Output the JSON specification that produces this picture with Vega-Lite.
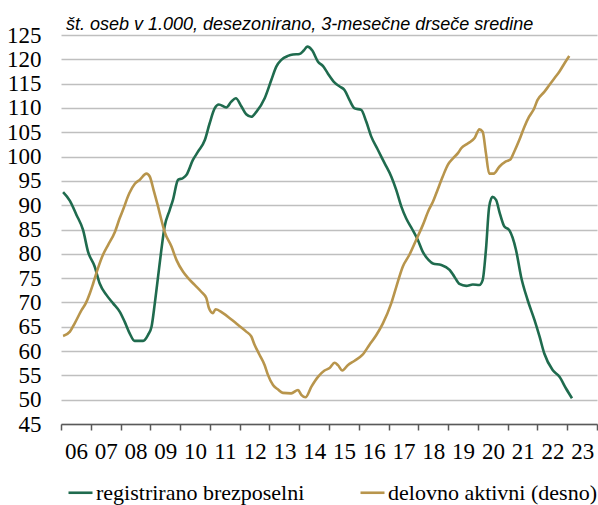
{
  "$schema": "https://vega.github.io/schema/vega-lite/v6.json",
  "width": 536,
  "height": 389,
  "autosize": {"type": "none"},
  "padding": {"left": 61, "top": 35, "right": 1, "bottom": 81},
  "background": "white",
  "title": {
    "text": "št. oseb v 1.000, desezonirano, 3-mesečne drseče sredine",
    "anchor": "start",
    "frame": "group",
    "dx": 5,
    "dy": 15,
    "offset": 5,
    "font": "Liberation Sans",
    "fontStyle": "italic",
    "fontWeight": "normal",
    "fontSize": 18,
    "color": "#000000"
  },
  "config": {
    "view": {"stroke": null},
    "axis": {"labelFont": "Liberation Sans Narrow", "labelFontSize": 23, "labelColor": "#000000"},
    "legend": {"labelFont": "Liberation Sans Narrow", "labelFontSize": 22, "labelColor": "#000000"}
  },
  "data": {
    "values": [
      {"date": 2006.07, "series": "registrirano brezposelni", "value": 92.7},
      {"date": 2006.30, "series": "registrirano brezposelni", "value": 90.9},
      {"date": 2006.52, "series": "registrirano brezposelni", "value": 88.0},
      {"date": 2006.74, "series": "registrirano brezposelni", "value": 84.9},
      {"date": 2006.91, "series": "registrirano brezposelni", "value": 80.4},
      {"date": 2007.13, "series": "registrirano brezposelni", "value": 77.4},
      {"date": 2007.30, "series": "registrirano brezposelni", "value": 73.9},
      {"date": 2007.53, "series": "registrirano brezposelni", "value": 71.5},
      {"date": 2007.75, "series": "registrirano brezposelni", "value": 69.8},
      {"date": 2007.97, "series": "registrirano brezposelni", "value": 68.1},
      {"date": 2008.14, "series": "registrirano brezposelni", "value": 66.0},
      {"date": 2008.31, "series": "registrirano brezposelni", "value": 63.6},
      {"date": 2008.47, "series": "registrirano brezposelni", "value": 62.1},
      {"date": 2008.76, "series": "registrirano brezposelni", "value": 62.1},
      {"date": 2008.92, "series": "registrirano brezposelni", "value": 63.3},
      {"date": 2009.04, "series": "registrirano brezposelni", "value": 65.0},
      {"date": 2009.15, "series": "registrirano brezposelni", "value": 69.8},
      {"date": 2009.26, "series": "registrirano brezposelni", "value": 75.3},
      {"date": 2009.37, "series": "registrirano brezposelni", "value": 80.8},
      {"date": 2009.48, "series": "registrirano brezposelni", "value": 85.6},
      {"date": 2009.65, "series": "registrirano brezposelni", "value": 89.0},
      {"date": 2009.76, "series": "registrirano brezposelni", "value": 91.1},
      {"date": 2009.93, "series": "registrirano brezposelni", "value": 95.2},
      {"date": 2010.10, "series": "registrirano brezposelni", "value": 95.6},
      {"date": 2010.21, "series": "registrirano brezposelni", "value": 96.2},
      {"date": 2010.43, "series": "registrirano brezposelni", "value": 99.3},
      {"date": 2010.60, "series": "registrirano brezposelni", "value": 101.0},
      {"date": 2010.83, "series": "registrirano brezposelni", "value": 103.4},
      {"date": 2010.99, "series": "registrirano brezposelni", "value": 106.8},
      {"date": 2011.16, "series": "registrirano brezposelni", "value": 109.9},
      {"date": 2011.30, "series": "registrirano brezposelni", "value": 110.7},
      {"date": 2011.55, "series": "registrirano brezposelni", "value": 110.1},
      {"date": 2011.72, "series": "registrirano brezposelni", "value": 111.3},
      {"date": 2011.87, "series": "registrirano brezposelni", "value": 112.0},
      {"date": 2012.06, "series": "registrirano brezposelni", "value": 110.3},
      {"date": 2012.22, "series": "registrirano brezposelni", "value": 108.7},
      {"date": 2012.39, "series": "registrirano brezposelni", "value": 108.2},
      {"date": 2012.56, "series": "registrirano brezposelni", "value": 109.2},
      {"date": 2012.84, "series": "registrirano brezposelni", "value": 112.0},
      {"date": 2013.06, "series": "registrirano brezposelni", "value": 115.7},
      {"date": 2013.23, "series": "registrirano brezposelni", "value": 118.5},
      {"date": 2013.40, "series": "registrirano brezposelni", "value": 119.9},
      {"date": 2013.62, "series": "registrirano brezposelni", "value": 120.7},
      {"date": 2013.79, "series": "registrirano brezposelni", "value": 121.0},
      {"date": 2014.01, "series": "registrirano brezposelni", "value": 121.1},
      {"date": 2014.15, "series": "registrirano brezposelni", "value": 121.8},
      {"date": 2014.27, "series": "registrirano brezposelni", "value": 122.6},
      {"date": 2014.44, "series": "registrirano brezposelni", "value": 121.8},
      {"date": 2014.63, "series": "registrirano brezposelni", "value": 119.5},
      {"date": 2014.80, "series": "registrirano brezposelni", "value": 118.6},
      {"date": 2014.96, "series": "registrirano brezposelni", "value": 117.1},
      {"date": 2015.19, "series": "registrirano brezposelni", "value": 115.2},
      {"date": 2015.36, "series": "registrirano brezposelni", "value": 114.4},
      {"date": 2015.52, "series": "registrirano brezposelni", "value": 113.7},
      {"date": 2015.69, "series": "registrirano brezposelni", "value": 111.6},
      {"date": 2015.86, "series": "registrirano brezposelni", "value": 109.9},
      {"date": 2016.08, "series": "registrirano brezposelni", "value": 109.6},
      {"date": 2016.25, "series": "registrirano brezposelni", "value": 107.2},
      {"date": 2016.42, "series": "registrirano brezposelni", "value": 104.1},
      {"date": 2016.64, "series": "registrirano brezposelni", "value": 101.4},
      {"date": 2016.87, "series": "registrirano brezposelni", "value": 98.6},
      {"date": 2017.09, "series": "registrirano brezposelni", "value": 95.9},
      {"date": 2017.26, "series": "registrirano brezposelni", "value": 93.1},
      {"date": 2017.43, "series": "registrirano brezposelni", "value": 89.7},
      {"date": 2017.59, "series": "registrirano brezposelni", "value": 87.3},
      {"date": 2017.80, "series": "registrirano brezposelni", "value": 85.0},
      {"date": 2017.98, "series": "registrirano brezposelni", "value": 82.9},
      {"date": 2018.15, "series": "registrirano brezposelni", "value": 80.4},
      {"date": 2018.35, "series": "registrirano brezposelni", "value": 78.7},
      {"date": 2018.49, "series": "registrirano brezposelni", "value": 78.0},
      {"date": 2018.77, "series": "registrirano brezposelni", "value": 77.7},
      {"date": 2019.05, "series": "registrirano brezposelni", "value": 76.7},
      {"date": 2019.21, "series": "registrirano brezposelni", "value": 75.3},
      {"date": 2019.38, "series": "registrirano brezposelni", "value": 73.8},
      {"date": 2019.61, "series": "registrirano brezposelni", "value": 73.4},
      {"date": 2019.83, "series": "registrirano brezposelni", "value": 73.7},
      {"date": 2020.05, "series": "registrirano brezposelni", "value": 73.6},
      {"date": 2020.16, "series": "registrirano brezposelni", "value": 74.6},
      {"date": 2020.27, "series": "registrirano brezposelni", "value": 80.8},
      {"date": 2020.38, "series": "registrirano brezposelni", "value": 89.7},
      {"date": 2020.49, "series": "registrirano brezposelni", "value": 91.7},
      {"date": 2020.61, "series": "registrirano brezposelni", "value": 91.1},
      {"date": 2020.72, "series": "registrirano brezposelni", "value": 88.7},
      {"date": 2020.89, "series": "registrirano brezposelni", "value": 85.6},
      {"date": 2021.05, "series": "registrirano brezposelni", "value": 84.9},
      {"date": 2021.28, "series": "registrirano brezposelni", "value": 80.8},
      {"date": 2021.45, "series": "registrirano brezposelni", "value": 75.3},
      {"date": 2021.67, "series": "registrirano brezposelni", "value": 70.5},
      {"date": 2021.90, "series": "registrirano brezposelni", "value": 66.4},
      {"date": 2022.07, "series": "registrirano brezposelni", "value": 63.0},
      {"date": 2022.23, "series": "registrirano brezposelni", "value": 59.5},
      {"date": 2022.51, "series": "registrirano brezposelni", "value": 56.1},
      {"date": 2022.74, "series": "registrirano brezposelni", "value": 54.7},
      {"date": 2022.96, "series": "registrirano brezposelni", "value": 52.3},
      {"date": 2023.16, "series": "registrirano brezposelni", "value": 50.3},
      {"date": 2006.07, "series": "delovno aktivni (desno)", "value": 63.1},
      {"date": 2006.30, "series": "delovno aktivni (desno)", "value": 64.0},
      {"date": 2006.46, "series": "delovno aktivni (desno)", "value": 65.7},
      {"date": 2006.69, "series": "delovno aktivni (desno)", "value": 68.4},
      {"date": 2006.83, "series": "delovno aktivni (desno)", "value": 69.8},
      {"date": 2006.97, "series": "delovno aktivni (desno)", "value": 71.9},
      {"date": 2007.08, "series": "delovno aktivni (desno)", "value": 73.9},
      {"date": 2007.24, "series": "delovno aktivni (desno)", "value": 77.0},
      {"date": 2007.41, "series": "delovno aktivni (desno)", "value": 79.8},
      {"date": 2007.58, "series": "delovno aktivni (desno)", "value": 81.8},
      {"date": 2007.81, "series": "delovno aktivni (desno)", "value": 84.5},
      {"date": 2007.97, "series": "delovno aktivni (desno)", "value": 87.3},
      {"date": 2008.08, "series": "delovno aktivni (desno)", "value": 89.0},
      {"date": 2008.29, "series": "delovno aktivni (desno)", "value": 92.4},
      {"date": 2008.48, "series": "delovno aktivni (desno)", "value": 94.4},
      {"date": 2008.64, "series": "delovno aktivni (desno)", "value": 95.2},
      {"date": 2008.87, "series": "delovno aktivni (desno)", "value": 96.5},
      {"date": 2008.98, "series": "delovno aktivni (desno)", "value": 95.9},
      {"date": 2009.11, "series": "delovno aktivni (desno)", "value": 93.1},
      {"date": 2009.26, "series": "delovno aktivni (desno)", "value": 89.7},
      {"date": 2009.37, "series": "delovno aktivni (desno)", "value": 87.0},
      {"date": 2009.48, "series": "delovno aktivni (desno)", "value": 84.5},
      {"date": 2009.71, "series": "delovno aktivni (desno)", "value": 81.5},
      {"date": 2009.88, "series": "delovno aktivni (desno)", "value": 78.7},
      {"date": 2010.10, "series": "delovno aktivni (desno)", "value": 76.3},
      {"date": 2010.27, "series": "delovno aktivni (desno)", "value": 75.0},
      {"date": 2010.49, "series": "delovno aktivni (desno)", "value": 73.6},
      {"date": 2010.71, "series": "delovno aktivni (desno)", "value": 72.2},
      {"date": 2010.88, "series": "delovno aktivni (desno)", "value": 70.9},
      {"date": 2010.97, "series": "delovno aktivni (desno)", "value": 68.8},
      {"date": 2011.10, "series": "delovno aktivni (desno)", "value": 67.8},
      {"date": 2011.19, "series": "delovno aktivni (desno)", "value": 68.6},
      {"date": 2011.44, "series": "delovno aktivni (desno)", "value": 67.8},
      {"date": 2011.70, "series": "delovno aktivni (desno)", "value": 66.6},
      {"date": 2011.94, "series": "delovno aktivni (desno)", "value": 65.4},
      {"date": 2012.22, "series": "delovno aktivni (desno)", "value": 64.0},
      {"date": 2012.39, "series": "delovno aktivni (desno)", "value": 63.0},
      {"date": 2012.50, "series": "delovno aktivni (desno)", "value": 61.3},
      {"date": 2012.67, "series": "delovno aktivni (desno)", "value": 59.2},
      {"date": 2012.84, "series": "delovno aktivni (desno)", "value": 57.1},
      {"date": 2012.95, "series": "delovno aktivni (desno)", "value": 55.1},
      {"date": 2013.12, "series": "delovno aktivni (desno)", "value": 53.0},
      {"date": 2013.29, "series": "delovno aktivni (desno)", "value": 52.1},
      {"date": 2013.45, "series": "delovno aktivni (desno)", "value": 51.4},
      {"date": 2013.73, "series": "delovno aktivni (desno)", "value": 51.3},
      {"date": 2013.96, "series": "delovno aktivni (desno)", "value": 52.0},
      {"date": 2014.07, "series": "delovno aktivni (desno)", "value": 51.0},
      {"date": 2014.21, "series": "delovno aktivni (desno)", "value": 50.5},
      {"date": 2014.41, "series": "delovno aktivni (desno)", "value": 52.7},
      {"date": 2014.63, "series": "delovno aktivni (desno)", "value": 54.7},
      {"date": 2014.85, "series": "delovno aktivni (desno)", "value": 56.0},
      {"date": 2015.02, "series": "delovno aktivni (desno)", "value": 56.5},
      {"date": 2015.19, "series": "delovno aktivni (desno)", "value": 57.6},
      {"date": 2015.30, "series": "delovno aktivni (desno)", "value": 57.1},
      {"date": 2015.45, "series": "delovno aktivni (desno)", "value": 56.0},
      {"date": 2015.63, "series": "delovno aktivni (desno)", "value": 57.1},
      {"date": 2015.86, "series": "delovno aktivni (desno)", "value": 58.0},
      {"date": 2016.12, "series": "delovno aktivni (desno)", "value": 59.2},
      {"date": 2016.36, "series": "delovno aktivni (desno)", "value": 61.3},
      {"date": 2016.59, "series": "delovno aktivni (desno)", "value": 63.3},
      {"date": 2016.81, "series": "delovno aktivni (desno)", "value": 65.7},
      {"date": 2017.09, "series": "delovno aktivni (desno)", "value": 69.8},
      {"date": 2017.26, "series": "delovno aktivni (desno)", "value": 73.2},
      {"date": 2017.48, "series": "delovno aktivni (desno)", "value": 77.4},
      {"date": 2017.70, "series": "delovno aktivni (desno)", "value": 79.8},
      {"date": 2017.93, "series": "delovno aktivni (desno)", "value": 82.9},
      {"date": 2018.15, "series": "delovno aktivni (desno)", "value": 85.9},
      {"date": 2018.35, "series": "delovno aktivni (desno)", "value": 89.0},
      {"date": 2018.49, "series": "delovno aktivni (desno)", "value": 90.7},
      {"date": 2018.60, "series": "delovno aktivni (desno)", "value": 92.4},
      {"date": 2018.82, "series": "delovno aktivni (desno)", "value": 95.9},
      {"date": 2018.99, "series": "delovno aktivni (desno)", "value": 98.3},
      {"date": 2019.16, "series": "delovno aktivni (desno)", "value": 99.6},
      {"date": 2019.33, "series": "delovno aktivni (desno)", "value": 100.7},
      {"date": 2019.44, "series": "delovno aktivni (desno)", "value": 101.7},
      {"date": 2019.66, "series": "delovno aktivni (desno)", "value": 102.7},
      {"date": 2019.89, "series": "delovno aktivni (desno)", "value": 103.8},
      {"date": 2020.05, "series": "delovno aktivni (desno)", "value": 105.6},
      {"date": 2020.16, "series": "delovno aktivni (desno)", "value": 105.1},
      {"date": 2020.27, "series": "delovno aktivni (desno)", "value": 100.7},
      {"date": 2020.38, "series": "delovno aktivni (desno)", "value": 96.5},
      {"date": 2020.53, "series": "delovno aktivni (desno)", "value": 96.5},
      {"date": 2020.72, "series": "delovno aktivni (desno)", "value": 97.9},
      {"date": 2020.94, "series": "delovno aktivni (desno)", "value": 99.0},
      {"date": 2021.09, "series": "delovno aktivni (desno)", "value": 99.4},
      {"date": 2021.22, "series": "delovno aktivni (desno)", "value": 101.0},
      {"date": 2021.39, "series": "delovno aktivni (desno)", "value": 103.4},
      {"date": 2021.56, "series": "delovno aktivni (desno)", "value": 106.1},
      {"date": 2021.72, "series": "delovno aktivni (desno)", "value": 108.2},
      {"date": 2021.89, "series": "delovno aktivni (desno)", "value": 109.9},
      {"date": 2022.00, "series": "delovno aktivni (desno)", "value": 111.6},
      {"date": 2022.23, "series": "delovno aktivni (desno)", "value": 113.3},
      {"date": 2022.40, "series": "delovno aktivni (desno)", "value": 114.7},
      {"date": 2022.57, "series": "delovno aktivni (desno)", "value": 116.1},
      {"date": 2022.74, "series": "delovno aktivni (desno)", "value": 117.5},
      {"date": 2022.91, "series": "delovno aktivni (desno)", "value": 119.2},
      {"date": 2023.07, "series": "delovno aktivni (desno)", "value": 120.7}
    ]
  },
  "mark": {"type": "line", "strokeWidth": 2.6, "interpolate": "monotone"},
  "encoding": {
    "x": {
      "field": "date",
      "type": "quantitative",
      "scale": {"domain": [2006, 2024], "nice": false, "zero": false},
      "axis": {
        "title": null,
        "values": [2006, 2007, 2008, 2009, 2010, 2011, 2012, 2013, 2014, 2015, 2016, 2017, 2018, 2019, 2020, 2021, 2022, 2023, 2024],
        "labelExpr": "datum.value >= 2024 ? '' : slice(toString(datum.value), 2)",
        "labelOffset": 15,
        "labelFlush": false,
        "labelOverlap": false,
        "labelBound": false,
        "labelPadding": 10,
        "grid": false,
        "domainColor": "#595959",
        "domainWidth": 1.5,
        "tickColor": "#595959",
        "tickWidth": 1.5,
        "tickSize": 6,
        "zindex": 1
      }
    },
    "y": {
      "field": "value",
      "type": "quantitative",
      "scale": {"domain": [45, 125], "nice": false, "zero": false},
      "axis": {
        "title": null,
        "values": [45, 50, 55, 60, 65, 70, 75, 80, 85, 90, 95, 100, 105, 110, 115, 120, 125],
        "domain": false,
        "ticks": false,
        "tickSize": 0,
        "labelPadding": 20,
        "grid": true,
        "gridColor": "#bfbfbf",
        "gridWidth": 1.5
      }
    },
    "color": {
      "field": "series",
      "type": "nominal",
      "sort": ["registrirano brezposelni", "delovno aktivni (desno)"],
      "scale": {"domain": ["registrirano brezposelni", "delovno aktivni (desno)"], "range": ["#1f6b4e", "#b8954c"]},
      "legend": {
        "title": null,
        "orient": "none",
        "legendX": 6,
        "legendY": 444,
        "direction": "horizontal",
        "columns": 2,
        "columnPadding": 50,
        "symbolType": "stroke",
        "symbolSize": 576,
        "symbolStrokeWidth": 2.6,
        "labelOffset": 2,
        "labelLimit": 0,
        "padding": 0
      }
    }
  }
}
